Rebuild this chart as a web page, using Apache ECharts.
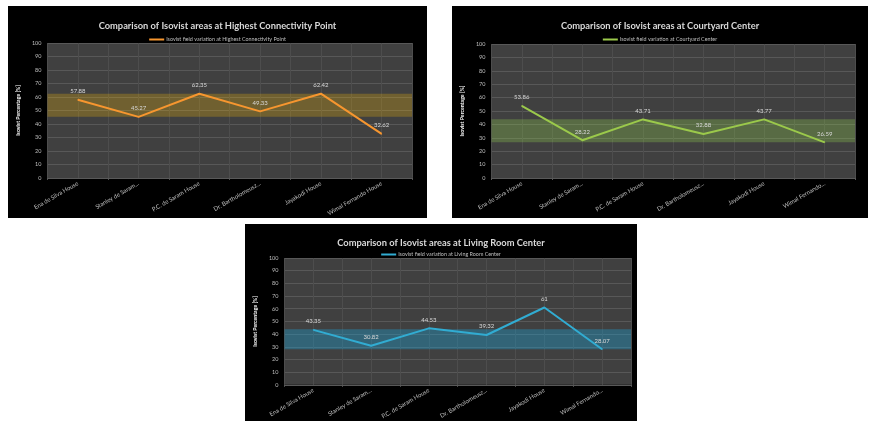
<!DOCTYPE html>
<html>
<head>
<meta charset="utf-8">
<script src="https://cdn.jsdelivr.net/npm/echarts@6/dist/echarts.min.js"></script>
<style>
html,body{margin:0;padding:0;background:#fff;width:872px;height:421px;overflow:hidden;}
.c{position:absolute;background:#000;}
</style>
</head>
<body>
<div id="c1" class="c" style="left:8px;top:6px;width:419px;height:212px;"></div>
<div id="c2" class="c" style="left:452px;top:6px;width:416px;height:212px;"></div>
<div id="c3" class="c" style="left:245px;top:224px;width:392px;height:197px;"></div>
<script>
var categories1 = ["Ena de Silva House", "Stanley de Saram...", "P.C. de Saram House", "Dr. Bartholomeusz...", "Jayakodi House", "Wimal Fernando House"];
var categories23 = ["Ena de Silva House", "Stanley de Saram...", "P.C. de Saram House", "Dr. Bartholomeusz...", "Jayakodi House", "Wimal Fernando..."];
var connectivityValues = [57.88, 45.27, 62.35, 49.33, 62.42, 32.62];
var courtyardValues = [53.86, 28.22, 43.71, 32.88, 43.77, 26.59];
var livingRoomValues = [43.35, 30.82, 44.53, 39.32, 61, 28.07];
var connectivityBand = [45.27, 62.42];
var courtyardBand = [26.59, 43.77];
var livingRoomBand = [28.07, 43.8];
var titles = ["Comparison of Isovist areas at Highest Connectivity Point", "Comparison of Isovist areas at Courtyard Center", "Comparison of Isovist areas at Living Room Center"];
var seriesNames = ["Isovist field variation at Highest Connectivity Point", "Isovist field variation at Courtyard Center", "Isovist field variation at Living Room Center"];
var yTicks = {min: 0, max: 100, interval: 10};
var yAxisName = "Isovist Percentage [%]";

function build(el, cfg) {
  var chart = echarts.init(document.getElementById(el), null, {renderer: 'canvas'});
  chart.setOption({
    animation: false,
    backgroundColor: '#000',
    title: {
      text: cfg.title, left: 'center', top: cfg.titleTop,
      textStyle: {color: '#d9d9d9', fontSize: 9.3, fontWeight: 'bold', fontFamily: 'Lato'}
    },
    legend: {
      top: cfg.legendTop, left: 'center', icon: 'rect', itemWidth: 15, itemHeight: 2, itemGap: 4,
      itemStyle: {color: cfg.color, opacity: 1},
      textStyle: {color: '#bfbfbf', fontSize: 5.4, fontFamily: 'Lato', padding: [0, 0, 0, -3]},
      data: [cfg.name]
    },
    grid: {
      left: cfg.grid[0], right: cfg.grid[1], top: cfg.grid[2], bottom: cfg.grid[3],
      show: true, backgroundColor: '#404040', borderWidth: 0
    },
    xAxis: [{
      type: 'category', data: cfg.categories, boundaryGap: true,
      axisLine: {show: true, lineStyle: {color: '#595959', width: 1}},
      axisTick: {show: true, length: 2, lineStyle: {color: '#595959'}},
      splitLine: {show: false},
      axisLabel: {color: '#bfbfbf', fontSize: 6, fontFamily: 'Lato', rotate: 30, margin: 5, interval: 0}
    }, {
      type: 'value', min: 0, max: 12, interval: 1, position: 'bottom',
      axisLine: {show: false}, axisTick: {show: false}, axisLabel: {show: false},
      splitLine: {show: true, lineStyle: {color: '#4d4d4d', width: 1}}
    }],
    yAxis: {
      type: 'value', min: yTicks.min, max: yTicks.max, interval: yTicks.interval,
      name: yAxisName, nameLocation: 'middle', nameRotate: 90, nameGap: cfg.nameGap,
      nameTextStyle: {color: '#ffffff', fontSize: 5.2, fontFamily: 'Lato', fontWeight: 'bold'},
      axisLine: {show: false}, axisTick: {show: false},
      axisLabel: {color: '#bfbfbf', fontSize: 5.5, fontFamily: 'Lato', margin: 6},
      splitLine: {show: true, lineStyle: {color: '#585858', width: 1}}
    },
    series: [{
      name: cfg.name, type: 'line', data: cfg.values, xAxisIndex: 0,
      showSymbol: true, symbol: 'circle', symbolSize: 1,
      lineStyle: {color: cfg.color, width: 2}, itemStyle: {color: cfg.color},
      label: {show: true, position: 'top', distance: 5, color: '#d9d9d9', fontSize: 6, fontFamily: 'Lato'},
      markArea: {
        silent: true,
        itemStyle: {color: cfg.band},
        data: [[{yAxis: cfg.bandRange[0]}, {yAxis: cfg.bandRange[1]}]]
      }
    }]
  });
}

build('c1', {title: titles[0], name: seriesNames[0], categories: categories1, values: connectivityValues,
  bandRange: connectivityBand, color: '#f7962f', band: 'rgba(255,192,0,0.25)',
  titleTop: 10, legendTop: 26, grid: [28, 15, 37, 40], nameGap: 16});
build('c2', {title: titles[1], name: seriesNames[1], categories: categories23, values: courtyardValues,
  bandRange: courtyardBand, color: '#9bc94b', band: 'rgba(146,208,80,0.3)',
  titleTop: 10, legendTop: 26, grid: [30, 13, 38, 40], nameGap: 17});
build('c3', {title: titles[2], name: seriesNames[2], categories: categories23, values: livingRoomValues,
  bandRange: livingRoomBand, color: '#31acd2', band: 'rgba(30,160,210,0.38)',
  titleTop: 9, legendTop: 23, grid: [29, 6, 34, 36], nameGap: 17});
</script>
</body>
</html>
